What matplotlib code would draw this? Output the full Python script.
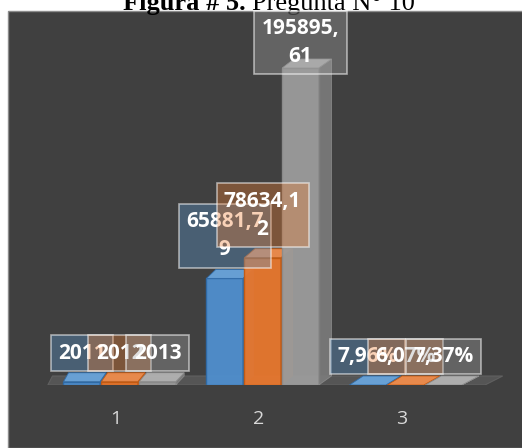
import matplotlib
matplotlib.use("Agg")
import matplotlib.pyplot as plt
from matplotlib.patches import Polygon, Rectangle

# ── Datos ─────────────────────────────────────────────────────────────────────
categorias = ["1", "2", "3"]
serie_a = [2011, 65881.79, 0.0796]
serie_b = [2012, 78634.12, 0.0607]
serie_c = [2013, 195895.61, 0.0737]
etiquetas_a = ["2011", "65881,7\n9", "7,96%"]
etiquetas_b = ["2012", "78634,1\n2", "6,07%"]
etiquetas_c = ["2013", "195895,\n61", "7,37%"]

series = [serie_a, serie_b, serie_c]
etiquetas = [etiquetas_a, etiquetas_b, etiquetas_c]

# front, side, top, edge, label-box
colores = [
    ("#4f8fce", "#3a6b9e", "#6aa5dc", "#2f6aa6", "#5b9bd5"),
    ("#e8772e", "#b35a20", "#f08d4c", "#c55a11", "#ed7d31"),
    ("#9c9c9c", "#7c7c7c", "#b3b3b3", "#8c8c8c", "#a5a5a5"),
]

W, H, DPI = 522, 448, 100
FONT = "Open Sans"

fig = plt.figure(figsize=(W / DPI, H / DPI), dpi=DPI)
fig.patch.set_facecolor("white")

# dark chart area
fig.patches.append(Rectangle((8 / W, 0), 1, 1 - 11 / H, transform=fig.transFigure,
                             facecolor="#404040", edgecolor="#8c8c8c", lw=1, zorder=-10))

# title (clipped by the top edge as in the original)
fig.text(246 / W, 1 - 10 / H, "Figura # 5.", ha="right", va="baseline",
         family="Liberation Serif", weight="bold", fontsize=19, color="black", zorder=-5)
fig.text(252 / W, 1 - 10 / H, "Pregunta N° 10", ha="left", va="baseline",
         family="Liberation Serif", fontsize=19, color="black", zorder=-5)

# axes geometry in pixels
ax_l, ax_r, ax_b, ax_t = 45, 505, 63, 436
ax = fig.add_axes([ax_l / W, ax_b / H, (ax_r - ax_l) / W, (ax_t - ax_b) / H])
ax.set_facecolor("none")
px_x = 143.0
px_y = 317.0 / max(serie_c)
xmin = 1 - (116 - ax_l) / px_x
ax.set_xlim(xmin, xmin + (ax_r - ax_l) / px_x)
ax.set_ylim(0, (ax_t - ax_b) / px_y)

ancho = 0.255
paso = 0.265
dy_px = 9


def dx_px(xd):
    xpx = ax_l + (xd - xmin) * px_x
    return 5 + 0.03 * (xpx - 60)


# floor slab
f0, f1 = xmin + 0.02, 3.58
fx0, fx1 = dx_px(f0) / px_x, dx_px(f1) / px_x
fdy = dy_px / px_y
ax.add_patch(Polygon([(f0, 0), (f1, 0), (f1 + fx1, fdy), (f0 + fx0, fdy)],
                     closed=True, facecolor="#555555", edgecolor="#606060", lw=0.8, zorder=1))
ax.add_patch(Polygon([(f0, 0), (f1, 0), (f1, -3 / px_y), (f0, -3 / px_y)],
                     closed=True, facecolor="#4a4a4a", edgecolor="none", zorder=1))

# ── Barras 3D ─────────────────────────────────────────────────────────────────
z = 2
for c in range(len(categorias)):
    for s, vals in enumerate(series):
        front, side, top, edge, _ = colores[s]
        x0 = c + 1 + (s - 1) * paso + 0.025 - ancho / 2
        x1 = x0 + ancho
        h = vals[c]
        ox = dx_px(x1) / px_x
        oy = dy_px / px_y
        ax.bar(x0, h, width=ancho, align="edge", color=front, edgecolor=edge,
               lw=1, alpha=0.95, zorder=z)
        ax.add_patch(Polygon([(x1, 0), (x1 + ox, oy), (x1 + ox, h + oy), (x1, h)],
                             closed=True, facecolor=side, edgecolor=edge, lw=0.6,
                             alpha=0.9, zorder=z))
        ax.add_patch(Polygon([(x0, h), (x1, h), (x1 + ox, h + oy), (x0 + dx_px(x0) / px_x, h + oy)],
                             closed=True, facecolor=top, edgecolor=edge, lw=0.6,
                             alpha=0.95, zorder=z))
        z += 1

# ── Etiquetas de datos ────────────────────────────────────────────────────────
ytop = ax.get_ylim()[1]
for c in range(len(categorias)):
    for s, vals in enumerate(series):
        caja = colores[s][4]
        xc = c + 1 + (s - 1) * paso + 0.025
        h = vals[c]
        bbox = dict(boxstyle="square,pad=0.35", facecolor=caja + "59",
                    edgecolor=(1, 1, 1, 0.55), lw=1.2)
        label_top_px = (h * px_y) + dy_px + 9 + 66
        if label_top_px > (ax_t - ax_b):
            ax.annotate(etiquetas[s][c], xy=(xc, ytop), xytext=(0, -6),
                        textcoords="offset pixels", ha="center", va="top",
                        fontsize=15, family=FONT, weight="bold", color="white",
                        linespacing=1.45, bbox=bbox, zorder=20 + c * 3 + s)
        else:
            ax.annotate(etiquetas[s][c], xy=(xc, h), xytext=(0, dy_px + 9),
                        textcoords="offset pixels", ha="center", va="bottom",
                        fontsize=15, family=FONT, weight="bold", color="white",
                        linespacing=1.45, bbox=bbox, zorder=20 + c * 3 + s)

ax.set_xticks(range(1, len(categorias) + 1))
ax.set_xticklabels(categorias, family=FONT, fontsize=14, color="#d9d9d9")
ax.tick_params(axis="x", length=0, pad=18)
ax.set_yticks([])
for sp in ax.spines.values():
    sp.set_visible(False)

fig.savefig("out.png", dpi=DPI, facecolor=fig.get_facecolor())
